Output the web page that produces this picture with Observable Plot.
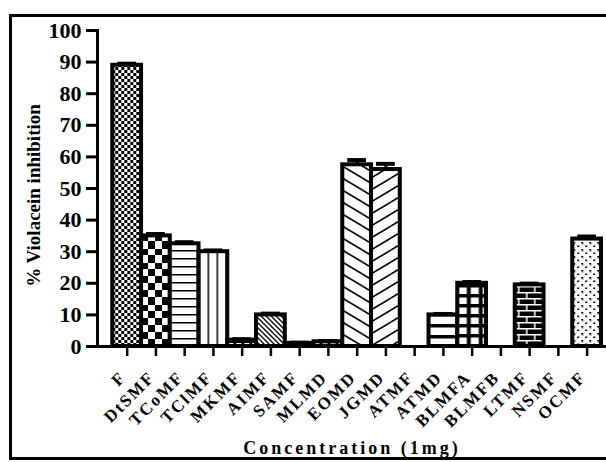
<!DOCTYPE html>
<html><head><meta charset="utf-8">
<script src="https://cdn.jsdelivr.net/npm/d3@7"></script>
<script src="https://cdn.jsdelivr.net/npm/@observablehq/plot@0.6"></script>
<style>
html,body{margin:0;padding:0;background:#fff}
body{width:606px;height:462px;overflow:hidden;position:relative}
#frame{position:absolute;left:9px;top:14px;width:700px;height:446px;border:3px solid #000;box-sizing:border-box}
#chart{position:absolute;left:0;top:0}
.xtitle text{letter-spacing:3px}
.xlabels text{letter-spacing:2px}
</style></head><body><div id="frame"></div><div id="chart"></div>
<script>
const categories = ["F","DtSMF","TCoMF","TClMF","MKMF","AIMF","SAMF","MLMD","EOMD","JGMD","ATMF","ATMD","BLMFA","BLMFB","LTMF","NSMF","OCMF"];
const values = [89, 35, 32.5, 30, 2, 10, 1, 1.5, 57.5, 56, 0, 10, 20, 0, 19.5, 0, 34];
const errors = [0.5, 0.6, 0.5, 0.4, 0.3, 0.4, 0.2, 0.2, 1.5, 1.8, 0, 0.3, 0.4, 0, 0.4, 0, 0.8];
const patternNames = ["fineCheck","coarseCheck","hLines","vLines","dashes","diag","solid","dashes","chevL","chevR","none","hBars","grid","none","brick","none","dots"];
const yTicks = [0,10,20,30,40,50,60,70,80,90,100];
const yTitle = "% Violacein inhibition";
const xTitle = "Concentration (1mg)";

const data = categories.map((c, i) => ({cat: c, v: values[i], e: errors[i]}));

const svg = Plot.plot({
  width: 606, height: 462,
  marginLeft: 97, marginTop: 30, marginBottom: 116, marginRight: 0,
  style: {fontFamily: "'Liberation Serif', 'Times New Roman', serif", fontWeight: "bold", background: "transparent", overflow: "visible", color: "#000"},
  x: {domain: categories, range: [112.3, 601], padding: 0, round: false},
  y: {domain: [0, 100]},
  marks: [
    Plot.barY(data, {x: "cat", y: "v", fill: "white", stroke: "black", strokeWidth: 4, className: "bars"}),
    Plot.ruleX(data.filter(d => d.e > 0), {x: "cat", y1: "v", y2: d => d.v + d.e, strokeWidth: 3}),
    Plot.tickY(data.filter(d => d.e > 0), {x: "cat", y: d => d.v + d.e, strokeWidth: 4, inset: 5}),
    Plot.ruleY([0], {strokeWidth: 3}),
    Plot.frame({anchor: "left", strokeWidth: 3}),
    Plot.axisY({ticks: yTicks, tickSize: 11, strokeWidth: 3, tickPadding: 5, fontSize: 22, label: null, tickFormat: d => String(d)}),
    Plot.axisX({tickSize: 10, strokeWidth: 2.5, label: null, tickFormat: () => ""}),
    Plot.text(data, {x: "cat", y: 0, text: "cat", rotate: -45, textAnchor: "end", lineAnchor: "middle", dx: -4, dy: 28, fontSize: 17, fontWeight: "bold", className: "xlabels"}),
    Plot.text([yTitle], {frameAnchor: "left", rotate: -90, textAnchor: "middle", dx: -64, dy: 7, fontSize: 19, fontWeight: "bold"}),
    Plot.text([xTitle], {frameAnchor: "bottom", dy: 102, textAnchor: "middle", lineAnchor: "middle", fontSize: 18, fontWeight: "bold", className: "xtitle"})
  ]
});
document.getElementById("chart").appendChild(svg);

// SVG fill patterns for the bars
const defs = d3.select(svg).insert("defs", ":first-child");
function pat(id, build) {
  const p = defs.append("pattern").attr("id", id).attr("patternUnits", "userSpaceOnUse");
  build(p);
  return p;
}
const defsBuilders = {
  fineCheck: p => { p.attr("width", 6).attr("height", 6); p.append("rect").attr("width", 6).attr("height", 6).attr("fill", "#fff"); p.append("rect").attr("width", 3).attr("height", 3); p.append("rect").attr("x", 3).attr("y", 3).attr("width", 3).attr("height", 3); },
  coarseCheck: p => { p.attr("width", 14).attr("height", 14); p.append("rect").attr("width", 14).attr("height", 14).attr("fill", "#fff"); p.append("rect").attr("width", 7).attr("height", 7); p.append("rect").attr("x", 7).attr("y", 7).attr("width", 7).attr("height", 7); },
  hLines: p => { p.attr("width", 10).attr("height", 8); p.append("rect").attr("width", 10).attr("height", 8).attr("fill", "#fff"); p.append("rect").attr("width", 10).attr("height", 1.5); },
  vLines: p => { p.attr("width", 9).attr("height", 10); p.append("rect").attr("width", 9).attr("height", 10).attr("fill", "#fff"); p.append("rect").attr("width", 1.5).attr("height", 10); },
  dashes: p => { p.attr("width", 8).attr("height", 4); p.append("rect").attr("width", 8).attr("height", 4).attr("fill", "#000"); p.append("rect").attr("x", 1).attr("y", 1).attr("width", 5).attr("height", 1.5).attr("fill", "#fff"); },
  diag: p => { p.attr("width", 5).attr("height", 5); p.append("rect").attr("width", 5).attr("height", 5).attr("fill", "#fff"); p.append("path").attr("d", "M0,0L5,5M-1,4L1,6M4,-1L6,1").attr("stroke", "#000").attr("stroke-width", 1.3); },
  solid: p => { p.attr("width", 4).attr("height", 4); p.append("rect").attr("width", 4).attr("height", 4).attr("fill", "#000"); },
  chevL: p => { p.attr("width", 20).attr("height", 12); p.append("rect").attr("width", 20).attr("height", 12).attr("fill", "#fff"); p.append("path").attr("d", "M0,0L20,12M-20,0L20,24M0,-12L20,0").attr("stroke", "#000").attr("stroke-width", 1.6); },
  chevR: p => { p.attr("width", 20).attr("height", 12); p.append("rect").attr("width", 20).attr("height", 12).attr("fill", "#fff"); p.append("path").attr("d", "M0,12L20,0M0,24L20,12M0,0L20,-12").attr("stroke", "#000").attr("stroke-width", 1.6); },
  none: p => { p.attr("width", 4).attr("height", 4); p.append("rect").attr("width", 4).attr("height", 4).attr("fill", "#fff"); },
  hBars: p => { p.attr("width", 10).attr("height", 11); p.append("rect").attr("width", 10).attr("height", 11).attr("fill", "#fff"); p.append("rect").attr("width", 10).attr("height", 3.5); },
  grid: p => { p.attr("width", 12).attr("height", 10); p.append("rect").attr("width", 12).attr("height", 10).attr("fill", "#000"); p.append("rect").attr("x", 1.5).attr("y", 1.5).attr("width", 8).attr("height", 6.5).attr("fill", "#fff"); },
  brick: p => { p.attr("width", 16).attr("height", 12); p.append("rect").attr("width", 16).attr("height", 12).attr("fill", "#000"); p.append("path").attr("d", "M0,0.75H16M0,6.75H16M4,0V6M12,6V12").attr("stroke", "#fff").attr("stroke-width", 1.5); },
  dots: p => { p.attr("width", 8).attr("height", 7); p.append("rect").attr("width", 8).attr("height", 7).attr("fill", "#fff"); p.append("rect").attr("x", 1).attr("y", 1).attr("width", 2).attr("height", 1.5); p.append("rect").attr("x", 5).attr("y", 4.5).attr("width", 2).attr("height", 1.5); p.append("rect").attr("x", 2).attr("y", 2.5).attr("width", 1).attr("height", 1); }
};
d3.select(svg).selectAll(".bars rect").each(function(d, j) {
  const i = typeof d === "number" ? d : j;
  const id = "pat" + i;
  const p = pat(id, defsBuilders[patternNames[i]]);
  const x = +this.getAttribute("x"), y = +this.getAttribute("y"), h = +this.getAttribute("height");
  p.attr("x", x).attr("y", y + h);
  this.setAttribute("fill", "url(#" + id + ")");
});
</script></body></html>
